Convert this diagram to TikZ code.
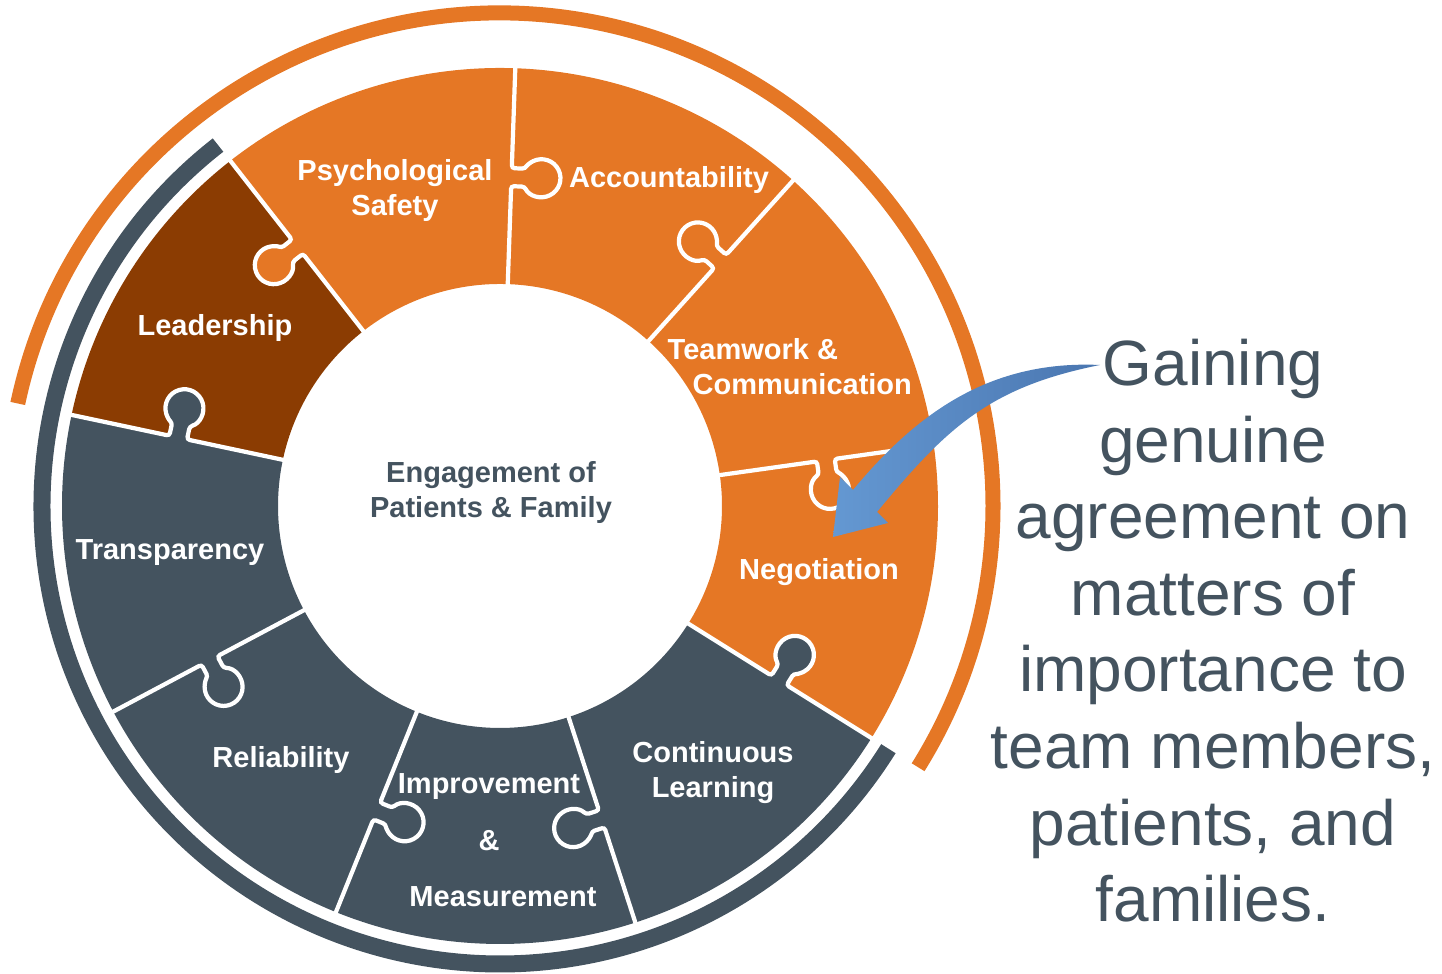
\documentclass[tikz,border=0pt]{standalone}
\usepackage{fontspec}
\setmainfont{Liberation Sans}
\usepackage{tikz}
\definecolor{orng}{HTML}{E57725}
\definecolor{brwn}{HTML}{8B3C02}
\definecolor{slat}{HTML}{44535F}
\definecolor{bluetail}{HTML}{4A76B0}
\definecolor{bluehead}{HTML}{6498D2}

\begin{document}
\begin{tikzpicture}[x=0.01cm, y=0.01cm,
		seam/.style={white, line width=1.2pt, rounded corners=0.8pt},
		piecelabel/.style={white, font=\fontsize{8.25pt}{10.2pt}\selectfont\bfseries, align=center, anchor=base, inner sep=0pt}]
		\useasboundingbox (0,0) rectangle (1442,974);
		% puzzle ring
		\begin{scope}[shift={(500,468)}]
			\foreach \a/\c in {-32/orng, 8/orng, 48/orng, 88/orng, 128/brwn, 168/slat, 208/slat, 248/slat, 288/slat}
				\fill[\c] (\a:222) arc[start angle=\a, end angle=\a+40, radius=222] -- (\a+40:438) arc[start angle=\a+40, end angle=\a, radius=438] -- cycle;
			% knobs
			\foreach \b/\d/\c in {8/-1/orng, 48/1/orng, 88/-1/orng, 128/1/orng, 168/-1/slat, 208/1/slat, 248/1/slat, 288/-1/slat, 328/1/slat}
				\fill[\c, rotate=\b, yscale=\d] (320,-2) -- (320,13.27) arc[start angle=241.73, end angle=-61.73, radius=19] -- (338,-2) -- cycle;
			\foreach \b/\d in {8/-1, 48/1, 88/-1, 128/1, 168/-1, 208/1, 248/1, 288/-1, 328/1}
				\draw[seam, rotate=\b, yscale=\d] (218,0) -- (320,0) -- (320,13.27) arc[start angle=241.73, end angle=-61.73, radius=19] -- (338,0) -- (442,0);
			% outer arcs
			\draw[orng, line width=0.15cm] (168:493) arc[start angle=168, end angle=-32, radius=493];
			\draw[slat, line width=0.17cm] (128:458) arc[start angle=128, end angle=328, radius=458];
		\end{scope}
		
		\node[piecelabel] (psych) at (395,758) {Psychological\\Safety};
		\node[piecelabel] (account) at (669,786) {Accountability};
		\node[piecelabel] (lead) at (215,638) {Leadership};
		\node[piecelabel, align=left, anchor=base west] (team) at (667,579) {Teamwork \&\\\hspace*{0.25cm}Communication};
		\node[piecelabel] (negot) at (819,394) {Negotiation};
		\node[piecelabel] (contin) at (713,176) {Continuous\\Learning};
		\node[piecelabel, font=\fontsize{8.25pt}{16.2pt}\selectfont\bfseries] (improv) at (489,67) {Improvement\\\&\\\hspace*{0.28cm}Measurement};
		\node[piecelabel] (reliab) at (281,206) {Reliability};
		\node[piecelabel] (transp) at (170,414) {Transparency};
		\node[piecelabel, text=slat, font=\fontsize{8.25pt}{9.96pt}\selectfont\bfseries] (centre) at (491,456) {Engagement of\\Patients \& Family};
		
		\node[text=slat, font=\fontsize{18.2pt}{21.8pt}\selectfont, align=center, anchor=base, inner sep=0pt] (gaining) at (1213,52) {Gaining\\genuine\\agreement on\\matters of\\importance to\\team members,\\patients, and\\families.};
		
		\coordinate (tail) at (1100,609);
		\coordinate (tip) at (833,437);
		\shade[left color=bluehead, right color=bluetail] (tail) .. controls (990,614) and (917,561) .. (853,484) -- (840,497) -- (tip) -- (888,451) -- (877,462) .. controls (947,547) and (990,587) .. (tail) -- cycle;
		\end{tikzpicture}
\end{document}
